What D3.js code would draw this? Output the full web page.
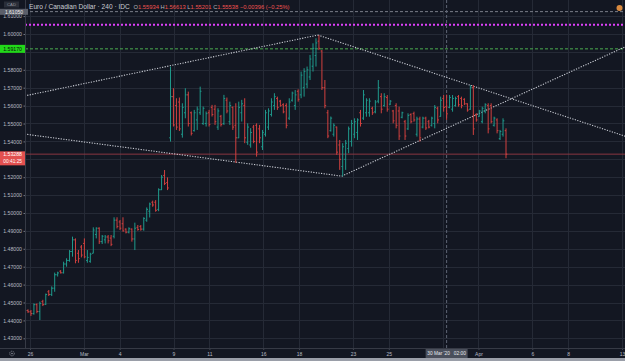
<!DOCTYPE html>
<html><head><meta charset="utf-8">
<script src="https://cdn.jsdelivr.net/npm/d3@7"></script>
<style>html,body{margin:0;padding:0;background:#131722;overflow:hidden}svg{display:block}</style>
</head><body><svg id="c" width="625" height="361"></svg>
<script>
// ---- DATA (4H EUR/CAD bars) ----
const open=[1.4445,1.4455,1.4448,1.4438,1.4488,1.4450,1.4505,1.4490,1.4560,1.4545,1.4580,1.4655,1.4675,1.4666,1.4715,1.4735,1.4785,1.4850,1.4775,1.4810,1.4830,1.4735,1.4730,1.4775,1.4880,1.4915,1.4840,1.4850,1.4866,1.4860,1.4870,1.4960,1.4950,1.4940,1.4910,1.4893,1.4910,1.4855,1.4920,1.4925,1.4910,1.4960,1.5010,1.5060,1.5060,1.5020,1.5130,1.5210,1.5170,
1.5420,1.5650,1.5600,1.5620,1.5440,1.5560,1.5660,1.5560,1.5460,1.5520,1.5560,1.5500,1.5500,1.5560,1.5590,1.5580,1.5480,1.5540,1.5500,1.5630,1.5510,1.5590,1.5490,1.5420,1.5560,1.5600,1.5395,1.5380,1.5480,1.5490,
1.5470,1.5370,1.5440,1.5480,1.5550,1.5600,1.5640,1.5625,1.5605,1.5600,1.5530,1.5630,1.5600,1.5680,1.5660,1.5700,1.5720,1.5760,1.5820,1.5880,1.5960,1.5905,1.5700,1.5560,1.5460,1.5440,1.5480,1.5380,1.5260,1.5300,1.5360,1.5400,
1.5440,1.5450,1.5560,1.5530,1.5560,1.5560,1.5585,1.5565,1.5625,1.5650,1.5600,1.5645,1.5608,1.5570,1.5600,1.5570,1.5535,1.5510,1.5470,1.5550,1.5555,1.5440,1.5525,1.5480,1.5530,1.5510,1.5490,1.5500,1.5585,1.5540,1.5640,1.55934,1.5590,1.5580,1.5600,1.5650,1.5640,1.5635,1.5610,1.5580,1.5700,1.5550,1.5540,1.5510,1.5570,1.5600,1.5600,1.5490,1.5520,1.5415,1.5440,1.5460];
const high=[1.4465,1.4462,1.4458,1.4495,1.4495,1.4505,1.4515,1.4550,1.4570,1.4590,1.4667,1.4672,1.4681,1.4728,1.4747,1.4793,1.4868,1.4858,1.4793,1.4821,1.4858,1.4793,1.4778,1.4920,1.4920,1.4920,1.4877,1.4877,1.4877,1.4877,1.4976,1.4976,1.4961,1.4976,1.4914,1.4920,1.4914,1.4946,1.4933,1.4933,1.4976,1.5031,1.5058,1.5069,1.5072,1.5138,1.5212,1.5240,1.5199,
1.5818,1.5697,1.5641,1.5645,1.5613,1.5697,1.5678,1.5567,1.5576,1.5595,1.5706,1.5595,1.5567,1.5576,1.5604,1.5604,1.5585,1.5548,1.5660,1.5645,1.5622,1.5595,1.5613,1.5622,1.5632,1.5641,1.5501,1.5474,1.5492,1.5501,
1.5492,1.5464,1.5576,1.5585,1.5641,1.5669,1.5650,1.5632,1.5613,1.5613,1.5641,1.5678,1.5687,1.5691,1.5790,1.5809,1.5818,1.5883,1.5948,1.5976,1.5994,1.5910,1.5743,1.5576,1.5539,1.5501,1.5483,1.5408,1.5390,1.5408,1.5483,1.5520,
1.5529,1.5529,1.5576,1.5687,1.5641,1.5641,1.5594,1.5631,1.5743,1.5669,1.5669,1.5659,1.5631,1.5576,1.5613,1.5594,1.5566,1.5520,1.5557,1.5557,1.5566,1.5538,1.5538,1.5538,1.5538,1.5520,1.5538,1.5603,1.5594,1.5650,1.5659,1.56613,1.5659,1.5659,1.5650,1.5659,1.5650,1.5641,1.5613,1.5715,1.5715,1.5557,1.5576,1.5594,1.5613,1.5613,1.5613,1.5538,1.5529,1.5464,1.5529,1.5473];
const low=[1.4440,1.4442,1.4425,1.4432,1.4440,1.4402,1.4480,1.4486,1.4536,1.4536,1.4560,1.4645,1.4662,1.4662,1.4700,1.4728,1.4756,1.4719,1.4722,1.4752,1.4747,1.4722,1.4722,1.4775,1.4858,1.4827,1.4827,1.4830,1.4830,1.4815,1.4858,1.4914,1.4905,1.4896,1.4886,1.4886,1.4840,1.4793,1.4901,1.4901,1.4901,1.4951,1.4975,1.5035,1.5007,1.5010,1.5128,1.5156,1.5128,
1.5399,1.5483,1.5464,1.5458,1.5421,1.5529,1.5483,1.5433,1.5455,1.5464,1.5548,1.5492,1.5483,1.5483,1.5539,1.5492,1.5464,1.5483,1.5492,1.5557,1.5492,1.5464,1.5280,1.5418,1.5511,1.5390,1.5381,1.5365,1.5390,1.5315,
1.5390,1.5352,1.5427,1.5464,1.5539,1.5576,1.5576,1.5594,1.5557,1.5473,1.5520,1.5622,1.5576,1.5622,1.5641,1.5650,1.5697,1.5743,1.5790,1.5818,1.5910,1.5687,1.5585,1.5418,1.5455,1.5427,1.5325,1.5241,1.5205,1.5241,1.5334,1.5371,
1.5418,1.5408,1.5483,1.5520,1.5538,1.5538,1.5548,1.5557,1.5613,1.5557,1.5594,1.5566,1.5603,1.5501,1.5473,1.5408,1.5529,1.5408,1.5464,1.5501,1.5510,1.5427,1.5399,1.5473,1.5464,1.5473,1.5483,1.5473,1.5501,1.5538,1.5566,1.55201,1.5585,1.5566,1.5594,1.5594,1.5585,1.5603,1.5566,1.5576,1.5436,1.5510,1.5538,1.5501,1.5557,1.5445,1.5501,1.5483,1.5445,1.5408,1.5427,1.5306];
const close=[1.4455,1.4448,1.4438,1.4488,1.4450,1.4495,1.4488,1.4545,1.4545,1.4580,1.4655,1.4665,1.4666,1.4715,1.4735,1.4785,1.4850,1.4735,1.4745,1.4765,1.4755,1.4752,1.4770,1.4905,1.4915,1.4840,1.4870,1.4866,1.4845,1.4825,1.4960,1.4925,1.4915,1.4900,1.4893,1.4912,1.4855,1.4915,1.4908,1.4910,1.4970,1.5020,1.5050,1.5045,1.5015,1.5130,1.5200,1.5165,1.5140,
1.5650,1.5492,1.5480,1.5470,1.5590,1.5660,1.5500,1.5445,1.5560,1.5580,1.5680,1.5585,1.5555,1.5495,1.5550,1.5510,1.5570,1.5495,1.5640,1.5570,1.5600,1.5480,1.5420,1.5590,1.5610,1.5420,1.5480,1.5450,1.5400,1.5340,
1.5420,1.5450,1.5560,1.5570,1.5620,1.5650,1.5590,1.5600,1.5565,1.5490,1.5620,1.5670,1.5660,1.5635,1.5770,1.5790,1.5800,1.5860,1.5920,1.5950,1.5920,1.5700,1.5600,1.5430,1.5530,1.5490,1.5340,1.5300,1.5370,1.5390,1.5470,1.5500,
1.5510,1.5520,1.5500,1.5660,1.5630,1.5625,1.5560,1.5620,1.5700,1.5580,1.5650,1.5580,1.5625,1.5515,1.5490,1.5430,1.5560,1.5430,1.5545,1.5510,1.5520,1.5525,1.5420,1.5530,1.5475,1.5480,1.5530,1.5590,1.5520,1.5630,1.5590,1.55538,1.5645,1.5640,1.5640,1.5605,1.5600,1.5610,1.5575,1.5700,1.5470,1.5520,1.5570,1.5585,1.5605,1.5470,1.5510,1.5530,1.5460,1.5455,1.5515,1.53288];

const dayTickDays=[0,3,5,8,10,13,15,18,20,23,25,28,30,33];
// label under the crosshair time box is hidden in the reference
const dayTickLabels=["26","Mar","4","9","11","16","18","23","25","","Apr","6","8","13"];
const priceTicks=[1.43,1.44,1.45,1.46,1.47,1.48,1.49,1.50,1.51,1.52,1.53,1.54,1.55,1.56,1.57,1.58,1.59,1.60,1.61];
// ticks hidden behind the alert / last-price labels
const hiddenPriceTicks=[1.53,1.59];
const lastPrice=1.53288, alertPrice=1.59170, magentaPrice=1.6052, topLinePrice=1.6125;
const topLineLabel="1.61050";
// trend lines: [day, price] pairs
const trendStart=[[-0.3,1.5654],[16.05,1.5994],[-0.3,1.5441],[17.38,1.5206]];
const trendEnd  =[[16.05,1.5994],[34.0,1.5402],[17.38,1.5206],[34.0,1.5966]];
const crosshairBar=142;
const crosshairText="30 Mar '20   02:00";
const titleName="Euro / Canadian Dollar", titleTf="240", titleEx="IDC";
const ohlcLetters=["O","H","L","C"];
const ohlcValues=["1.55934","1.56613","1.55201","1.55538"];
const changeText="\u22120.00396 (\u22120.25%)";

// ---- CHART ----
const svg=d3.select("#c");
const W=625,H=361, pL=25, pR=625, pB=348;
const font="'Liberation Sans', Arial, sans-serif";
const y=d3.scaleLinear().domain([1.43,1.60]).range([338.3,34]);
const dayX=d3.scaleLinear().domain([0,33]).range([30,622]);
const barX=d3.scaleLinear().domain([0,162]).range([25,506]);
const UP="#1f9a8c", DN="#d2413f";

svg.append("rect").attr("width",W).attr("height",H).attr("fill","#131722");
svg.append("defs").append("clipPath").attr("id","plot").append("rect").attr("x",pL).attr("y",0).attr("width",pR-pL).attr("height",pB);
const plot=svg.append("g").attr("clip-path","url(#plot)");

// grid
plot.selectAll(".hg").data(priceTicks).join("line").attr("x1",pL).attr("x2",pR)
  .attr("y1",d=>Math.round(y(d))+0.5).attr("y2",d=>Math.round(y(d))+0.5).attr("stroke","#252a36").attr("stroke-width",1);
plot.selectAll(".vg").data(dayTickDays).join("line").attr("y1",0).attr("y2",pB)
  .attr("x1",d=>Math.round(dayX(d))+0.5).attr("x2",d=>Math.round(dayX(d))+0.5).attr("stroke","#252a36").attr("stroke-width",1);

// horizontal level lines
const hl=(v,col,dash,w)=>plot.append("line").attr("x1",pL).attr("x2",pR).attr("y1",y(v)).attr("y2",y(v))
  .attr("stroke",col).attr("stroke-dasharray",dash).attr("stroke-width",w);
hl(topLinePrice,"#7a7e89","3,2",1);
hl(magentaPrice,"#e040fb","2,2",2);
hl(alertPrice,"#4caf50","3,2",1);
hl(lastPrice,"#8a3640",null,1);

// crosshair
plot.append("line").attr("x1",barX(crosshairBar)).attr("x2",barX(crosshairBar)).attr("y1",0).attr("y2",pB)
  .attr("stroke","#5f6675").attr("stroke-dasharray","3,2").attr("stroke-width",1);

// trend lines
plot.selectAll(".tl").data(trendStart).join("line")
  .attr("x1",d=>dayX(d[0])).attr("y1",d=>y(d[1]))
  .attr("x2",(d,i)=>dayX(trendEnd[i][0])).attr("y2",(d,i)=>y(trendEnd[i][1]))
  .attr("stroke","#c9ccd4").attr("stroke-width",1.1).attr("stroke-dasharray","1.2,1.4");

// OHLC bars
const bars=plot.append("g");
open.forEach((o,i)=>{
  const x=barX(i), col=close[i]>=o?UP:DN;
  bars.append("line").attr("x1",x).attr("x2",x).attr("y1",y(high[i])).attr("y2",y(low[i])).attr("stroke",col).attr("stroke-width",1);
  bars.append("line").attr("x1",x-1.3).attr("x2",x).attr("y1",y(o)).attr("y2",y(o)).attr("stroke",col).attr("stroke-width",1);
  bars.append("line").attr("x1",x).attr("x2",x+1.3).attr("y1",y(close[i])).attr("y2",y(close[i])).attr("stroke",col).attr("stroke-width",1);
});

// left price axis
svg.append("rect").attr("x",0).attr("y",0).attr("width",pL).attr("height",pB).attr("fill","#131722");
const ya=svg.append("g").attr("transform",`translate(${pL},0)`)
  .call(d3.axisLeft(y).tickValues(priceTicks)
    .tickFormat(d=>hiddenPriceTicks.some(h=>Math.abs(h-d)<1e-9)?"":d3.format(".5f")(d))
    .tickSize(1.5).tickPadding(1.5));
ya.select(".domain").remove();
ya.selectAll("line").attr("stroke","#6f7480");
ya.selectAll("text").attr("fill","#b7bac3").attr("font-size","5.2px").attr("font-family",font);
svg.append("line").attr("x1",pL+0.5).attr("x2",pL+0.5).attr("y1",0).attr("y2",pB).attr("stroke","#363a45");

// bottom time axis
svg.append("rect").attr("x",0).attr("y",pB).attr("width",W).attr("height",H-pB).attr("fill","#131722");
const xa=svg.append("g").attr("transform",`translate(0,${pB})`)
  .call(d3.axisBottom(dayX).tickValues(dayTickDays).tickFormat((d,i)=>dayTickLabels[i]).tickSize(1.5).tickPadding(2.5));
xa.select(".domain").remove();
xa.selectAll("line").attr("stroke","#6f7480");
xa.selectAll("text").attr("fill","#b7bac3").attr("font-size","5px").attr("font-family",font);
svg.append("line").attr("x1",0).attr("x2",W).attr("y1",pB+0.5).attr("y2",pB+0.5).attr("stroke","#363a45");
svg.append("rect").attr("x",0).attr("y",358).attr("width",W).attr("height",3).attr("fill","#9a9ea8");

// crosshair time label
const cx=barX(crosshairBar);
svg.append("rect").attr("x",cx-21).attr("y",pB+1).attr("width",42).attr("height",9).attr("fill","#4a4f5b");
svg.append("text").attr("x",cx).attr("y",pB+7.3).attr("text-anchor","middle").attr("fill","#e6e8ee")
  .attr("font-size","4.8px").attr("font-family",font).attr("xml:space","preserve").text(crosshairText);

// gear icon
svg.append("circle").attr("cx",12).attr("cy",353.5).attr("r",2.3).attr("fill","none").attr("stroke","#8a8e99").attr("stroke-width",0.9).attr("stroke-dasharray","1,0.8");
svg.append("circle").attr("cx",12).attr("cy",353.5).attr("r",0.8).attr("fill","#8a8e99");

// alert label
{
  const yy=y(alertPrice);
  svg.append("rect").attr("x",0).attr("y",yy-4).attr("width",25).attr("height",8).attr("fill","#22d81a");
  svg.append("text").attr("x",22).attr("y",yy+1.8).attr("text-anchor","end").attr("fill","#0b0b0b")
    .attr("font-size","5.2px").attr("font-family",font).text(d3.format(".5f")(alertPrice));
}
// last price label (two rows)
{
  const yy=y(lastPrice);
  svg.append("rect").attr("x",0).attr("y",yy-2.8).attr("width",25).attr("height",14).attr("fill","#e3504f");
  svg.append("text").attr("x",22).attr("y",yy+2).attr("text-anchor","end").attr("fill","#fff").attr("font-size","5.2px").attr("font-family",font).text(d3.format(".5f")(lastPrice));
  svg.append("text").attr("x",22).attr("y",yy+8.8).attr("text-anchor","end").attr("fill","#fff").attr("font-size","4.8px").attr("font-family",font).text("00:41:25");
}
// top gray line label
{
  const yy=y(topLinePrice);
  svg.append("rect").attr("x",0).attr("y",yy-2.8).attr("width",28).attr("height",6).attr("fill","#5b5f6a");
  svg.append("text").attr("x",23).attr("y",yy+1.9).attr("text-anchor","end").attr("fill","#f0f0f0").attr("font-size","5px").attr("font-family",font).text(topLineLabel);
  svg.append("rect").attr("x",4).attr("y",1.5).attr("width",15).attr("height",6).attr("fill","#2a2e39");
  svg.append("text").attr("x",11.5).attr("y",6.2).attr("text-anchor","middle").attr("fill","#9598a1").attr("font-size","4.2px").attr("font-family",font).text("CAD");
}

// title
const t=svg.append("text").attr("x",29).attr("y",9).attr("font-family",font).attr("font-size","6.6px").attr("xml:space","preserve");
t.append("tspan").attr("fill","#c9ccd4").text(titleName+" \u00b7 "+titleTf+" \u00b7 "+titleEx+"  ");
ohlcLetters.forEach((L,i)=>{
  t.append("tspan").attr("fill","#b2b5be").attr("font-size","5.8px").text(L);
  t.append("tspan").attr("fill","#ef5350").attr("font-size","5.8px").text(ohlcValues[i]+" ");
});
t.append("tspan").attr("fill","#ef5350").attr("font-size","5.8px").text(changeText);

// top-right badge
svg.append("circle").attr("cx",619.5).attr("cy",8).attr("r",3).attr("fill","#d98a3f");
</script></body></html>
